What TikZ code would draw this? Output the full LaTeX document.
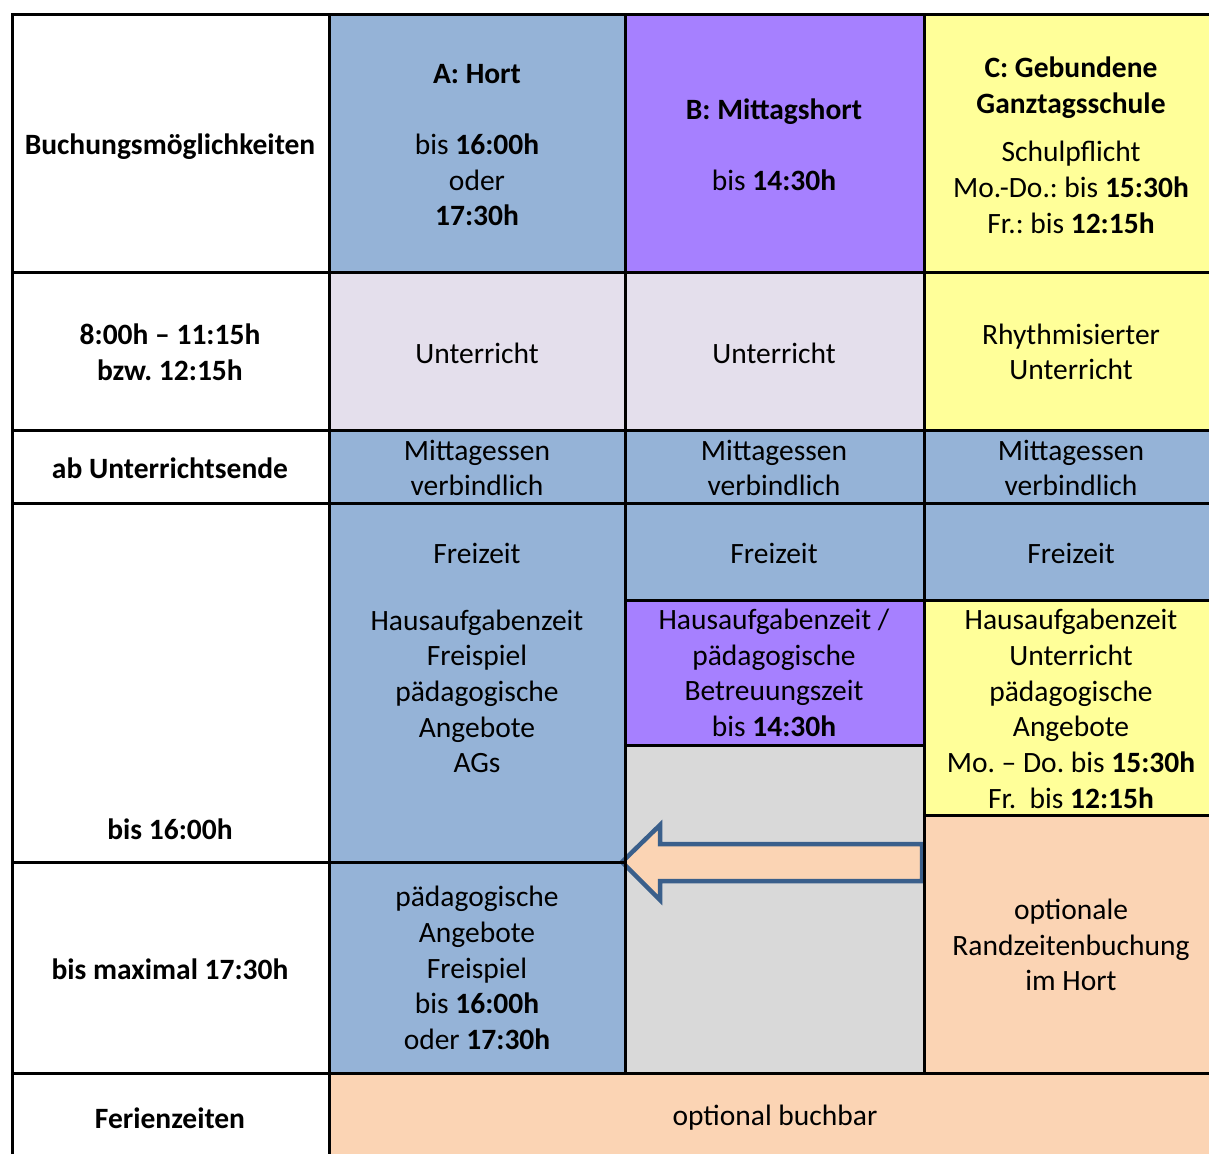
\documentclass[tikz,border=0pt]{standalone}
\usepackage{fontspec}
\setmainfont{Carlito}
\frenchspacing
\definecolor{hortblue}{HTML}{95B3D7}
\definecolor{mittagpurple}{HTML}{A680FF}
\definecolor{ganztagyellow}{HTML}{FFFF99}
\definecolor{lessonlilac}{HTML}{E4DFEC}
\definecolor{emptygray}{HTML}{D9D9D9}
\definecolor{optpeach}{HTML}{FBD4B4}
\definecolor{arrowblue}{HTML}{3A5F8B}

\begin{document}
\begin{tikzpicture}[x=1pt, y=-1pt]
\tikzstyle{cell} = [align=center, inner sep=0pt, font=\fontsize{29.5}{35.7}\selectfont]
\tikzstyle{grid} = [line width=3pt, black]
\tikzstyle{bigarrow} = [line width=4.5pt, draw=arrowblue, fill=optpeach, line join=miter]

\useasboundingbox (0,0) rectangle (1209,1154);

    % Hintergrundfarben der Zellen
    \fill [hortblue] (329,14) rectangle (625,272);
    \fill [mittagpurple] (625,14) rectangle (924,272);
    \fill [ganztagyellow] (924,14) rectangle (1209,272);
    \fill [lessonlilac] (329,272) rectangle (924,430);
    \fill [ganztagyellow] (924,272) rectangle (1209,430);
    \fill [hortblue] (329,430) rectangle (1209,600);
    \fill [hortblue] (329,600) rectangle (625,1073);
    \fill [mittagpurple] (625,600) rectangle (924,745);
    \fill [emptygray] (625,745) rectangle (924,1073);
    \fill [ganztagyellow] (924,600) rectangle (1209,815);
    \fill [optpeach] (924,815) rectangle (1209,1073);
    \fill [optpeach] (329,1073) rectangle (1209,1154);

    % Kopfzeile
    \node (buchung) at (170,147) [cell] {\textbf{Buchungsmöglichkeiten}};
    \node (hort) at (477,145) [cell] {\textbf{A: Hort}\\[35.7pt] bis \textbf{16:00h}\\ oder\\ \textbf{17:30h}};
    \node (mittag) at (774,145) [cell] {\textbf{B: Mittagshort}\\[35.7pt] bis \textbf{14:30h}};
    \node (ganztag) at (1071,145) [cell] {\textbf{C: Gebundene}\\ \textbf{Ganztagsschule}\\[13pt] Schulpflicht\\ Mo.-Do.: bis \textbf{15:30h}\\ Fr.: bis \textbf{12:15h}};

    % Unterricht
    \node (zeit) at (170,352) [cell] {\textbf{8:00h -- 11:15h}\\ \textbf{bzw. 12:15h}};
    \node (unterrichtA) at (477,353) [cell] {Unterricht};
    \node (unterrichtB) at (774,353) [cell] {Unterricht};
    \node (unterrichtC) at (1071,352) [cell] {Rhythmisierter\\ Unterricht};

    % Mittagessen
    \node (ende) at (170,468) [cell] {\textbf{ab Unterrichtsende}};
    \node (essenA) at (477,468) [cell] {Mittagessen\\ verbindlich};
    \node (essenB) at (774,468) [cell] {Mittagessen\\ verbindlich};
    \node (essenC) at (1071,468) [cell] {Mittagessen\\ verbindlich};

    % Nachmittag
    \node (bis16) at (170,829) [cell] {\textbf{bis 16:00h}};
    \node (nachmittagA) at (477,658) [cell] {Freizeit\\[31pt] Hausaufgabenzeit\\ Freispiel\\ pädagogische\\ Angebote\\ AGs};
    \node (freizeitB) at (774,553) [cell] {Freizeit};
    \node (freizeitC) at (1071,553) [cell] {Freizeit};
    \node (hausB) at (774,673) [cell] {Hausaufgabenzeit /\\ pädagogische\\ Betreuungszeit\\ bis \textbf{14:30h}};
    \node (hausC) at (1071,709) [cell] {Hausaufgabenzeit\\ Unterricht\\ pädagogische\\ Angebote\\ Mo. -- Do. bis \textbf{15:30h}\\ Fr.\ \ bis \textbf{12:15h}};

    % Randzeiten
    \node (bis1730) at (170,969) [cell] {\textbf{bis maximal 17:30h}};
    \node (randA) at (477,968) [cell] {pädagogische\\ Angebote\\ Freispiel\\ bis \textbf{16:00h}\\ oder \textbf{17:30h}};
    \node (randC) at (1071,945) [cell] {optionale\\ Randzeitenbuchung\\ im Hort};

    % Ferien
    \node (ferien) at (170,1118) [cell] {\textbf{Ferienzeiten}};
    \node (buchbar) at (775,1118) [cell] {optional buchbar};

    % Pfeil von C nach A
    \draw [bigarrow] (922,844) -- (660,844) -- (660,825) -- (622,862) -- (660,900) -- (660,881) -- (922,881) -- cycle;

    % Tabellenlinien
    \draw [grid] (12,1154) -- (12,14) -- (1209,14);
    \draw [grid] (329,14) -- (329,1154);
    \draw [grid] (625,14) -- (625,1073);
    \draw [grid] (924,14) -- (924,1073);
    \draw [grid] (12,272) -- (1209,272);
    \draw [grid] (12,430) -- (1209,430);
    \draw [grid] (12,503) -- (1209,503);
    \draw [grid] (625,600) -- (1209,600);
    \draw [grid] (625,745) -- (924,745);
    \draw [grid] (924,815) -- (1209,815);
    \draw [grid] (12,862) -- (625,862);
    \draw [grid] (12,1073) -- (1209,1073);
\end{tikzpicture}
\end{document}
